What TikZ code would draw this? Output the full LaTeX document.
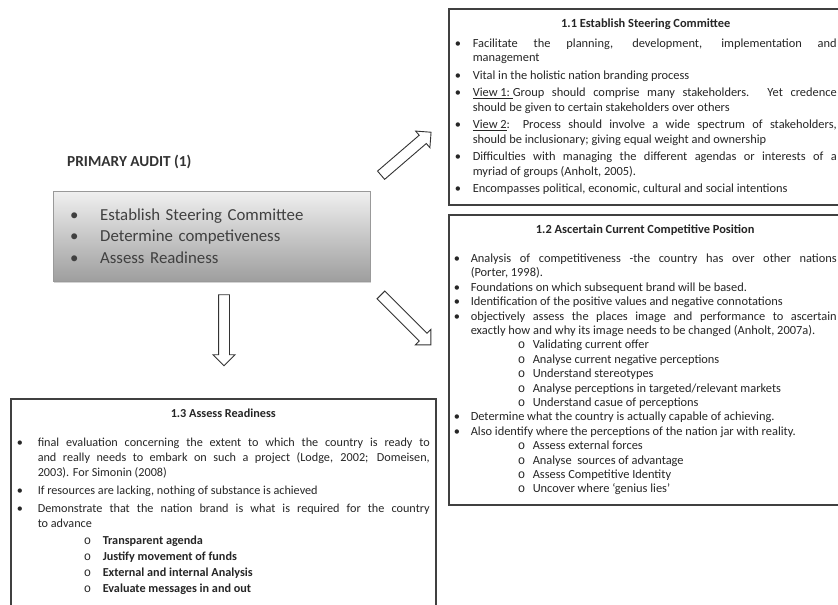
\documentclass[tikz,border=0pt]{standalone}
\usepackage{fontspec}
\setmainfont{Carlito}
\newfontfamily\markfont{Liberation Mono}
\usepackage{enumitem}
\usetikzlibrary{shapes.arrows,shadows,calc}
\setlist[itemize]{topsep=0pt,partopsep=0pt,parsep=0pt,align=left}
\tikzset{
	infobox/.style={draw=black!75, line width=1.5pt, fill=white, anchor=north west, align=justify, inner xsep=6pt, inner ysep=10pt, text=black!85},
	auditbox/.style={draw=black!40, top color=black!6, bottom color=black!38, anchor=north west, drop shadow={shadow xshift=1pt, shadow yshift=-2pt, opacity=0.35}},
	blockarrow/.style={single arrow, draw=black!80, fill=white, line width=0.9pt, inner sep=0pt, text height=5pt, text depth=5pt, text width=0pt, single arrow head extend=5.5pt}
}
\newcommand{\subo}{{\markfont o}}
\begin{document}
\begin{tikzpicture}[x=1pt,y=-1pt]
		\useasboundingbox (0,0) rectangle (838,605);
		\clip (0,0) rectangle (838,605);
		\node[anchor=west, inner sep=0pt, text=black!80, font=\bfseries\fontsize{15.3}{18}\selectfont] (audittitle) at (67,162) {PRIMARY AUDIT (1)};
		\node[auditbox, minimum width=317pt, minimum height=90pt, inner xsep=17pt, text width=283pt, align=left, text=black!75, font=\fontsize{16.8}{21.5}\selectfont] (audit) at (53,191)
			{\makebox[30pt][l]{\textbullet}Establish Steering Committee\\
			 \makebox[30pt][l]{\textbullet}Determine competiveness\\
			 \makebox[30pt][l]{\textbullet}Assess Readiness};
		\node[infobox, text width=382pt, font=\fontsize{12.4}{14.5}\selectfont] (steering) at (448,8) {%
			{\centering\bfseries 1.1 Establish Steering Committee\par}
			\vspace{5.5pt}
			\begin{itemize}[label=\textbullet, leftmargin=18pt, labelsep=8pt, labelwidth=10pt, itemsep=3pt]
				\item Facilitate the planning, development, implementation and\linebreak management
				\item Vital in the holistic nation branding process
				\item \underline{View 1:\ }Group should comprise many stakeholders. Yet credence\linebreak should be given to certain stakeholders over others
				\item \underline{View 2}: Process should involve a wide spectrum of stakeholders,\linebreak should be inclusionary; giving equal weight and ownership
				\item Difficulties with managing the different agendas or interests of a\linebreak myriad of groups (Anholt, 2005).
				\item Encompasses political, economic, cultural and social intentions
			\end{itemize}};
		\node[infobox, inner xsep=5pt, text width=383pt, font=\fontsize{12.4}{14.4}\selectfont] (position) at (448,214) {%
			{\centering\bfseries 1.2 Ascertain Current Competitive Position\par}
			\vspace{14.6pt}
			\begin{itemize}[label=\textbullet, leftmargin=17pt, labelsep=7pt, labelwidth=10pt, itemsep=0pt]
				\item Analysis of competitiveness -the country has over other nations\linebreak (Porter, 1998).
				\item Foundations on which subsequent brand will be based.
				\item Identification of the positive values and negative connotations
				\item objectively assess the places image and performance to ascertain\linebreak exactly how and why its image needs to be changed (Anholt, 2007a).
				\begin{itemize}[label=\subo, leftmargin=62pt, labelsep=6pt, labelwidth=9pt, itemsep=0pt]
					\item Validating current offer
					\item Analyse current negative perceptions
					\item Understand stereotypes
					\item Analyse perceptions in targeted/relevant markets
					\item Understand casue of perceptions
				\end{itemize}
				\item Determine what the country is actually capable of achieving.
				\item Also identify where the perceptions of the nation jar with reality.
				\begin{itemize}[label=\subo, leftmargin=62pt, labelsep=6pt, labelwidth=9pt, itemsep=0pt]
					\item Assess external forces
					\item Analyse\ \ sources of advantage
					\item Assess Competitive Identity
					\item Uncover where `genius lies'
				\end{itemize}
			\end{itemize}};
		\node[infobox, text width=413pt, font=\fontsize{12.2}{15}\selectfont] (readiness) at (10,398) {%
			{\centering\bfseries 1.3 Assess Readiness\par}
			\vspace{14pt}
			\begin{itemize}[label=\textbullet, leftmargin=21pt, labelsep=9pt, labelwidth=12pt, itemsep=3pt]
				\item final evaluation concerning the extent to which the country is ready to\linebreak and really needs to embark on such a project (Lodge, 2002; Domeisen,\linebreak 2003). For Simonin (2008)
				\item If resources are lacking, nothing of substance is achieved
				\item Demonstrate that the nation brand is what is required for the country\linebreak to advance
				\begin{itemize}[label=\subo, leftmargin=65pt, labelsep=8pt, labelwidth=11pt, itemsep=1pt, topsep=2pt]
					\item \textbf{Transparent agenda}
					\item \textbf{Justify movement of funds}
					\item \textbf{External and internal Analysis}
					\item \textbf{Evaluate messages in and out}
				\end{itemize}
			\end{itemize}
			\vspace{8pt}};
		\coordinate (upTail) at (379,177);
		\coordinate (upTip) at (429,134);
		\coordinate (downTail) at (224,292);
		\coordinate (downTip) at (224,363);
		\coordinate (diagTail) at (379,293);
		\coordinate (diagTip) at (429,343);
		\path let \p1=($(upTip)-(upTail)$), \n1={atan2(\y1,\x1)}, \n2={veclen(\x1,\y1)} in
			node[blockarrow, minimum height=\n2, rotate=\n1] (toSteering) at ($(upTail)!0.5!(upTip)$) {};
		\path let \p1=($(diagTip)-(diagTail)$), \n1={atan2(\y1,\x1)}, \n2={veclen(\x1,\y1)} in
			node[blockarrow, minimum height=\n2, rotate=\n1] (toPosition) at ($(diagTail)!0.5!(diagTip)$) {};
		\path let \p1=($(downTip)-(downTail)$), \n1={atan2(\y1,\x1)}, \n2={veclen(\x1,\y1)} in
			node[blockarrow, minimum height=\n2, rotate=\n1] (toReadiness) at ($(downTail)!0.5!(downTip)$) {};
	\end{tikzpicture}
\end{document}
